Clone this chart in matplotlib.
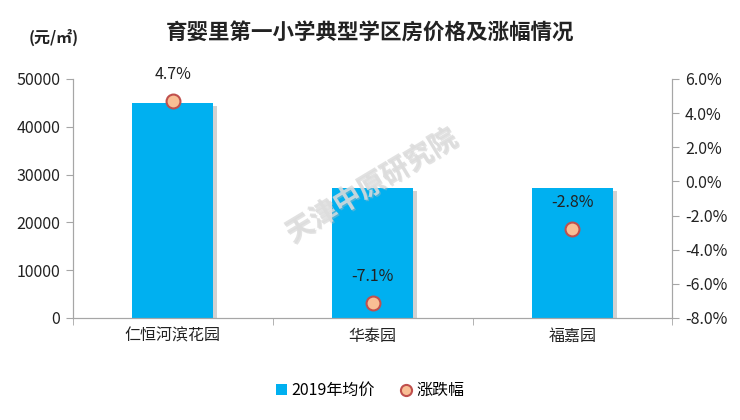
import matplotlib
matplotlib.use("Agg")
import matplotlib.pyplot as plt
import matplotlib.patheffects as pe
from matplotlib.ticker import FuncFormatter, FixedLocator
from matplotlib.lines import Line2D
from matplotlib.patches import Patch
import numpy as np

plt.rcParams["font.family"] = ["Noto Sans CJK SC", "DejaVu Sans"]

# ── data ──────────────────────────────────────────────────────────────────
communities = ["仁恒河滨花园", "华泰园", "福嘉园"]
avg_price_2019 = [45000, 27200, 27200]       # 元/㎡
change_pct = [4.7, -7.1, -2.8]               # %

BAR_COLOR = "#00B0F0"
AXIS_COLOR = "#A6A6A6"
TEXT_COLOR = "#222222"

fig = plt.figure(figsize=(7.4, 4.2), dpi=100)
ax = fig.add_axes([0.0986, 0.243, 0.810, 0.569])
ax2 = ax.twinx()

x = np.arange(len(communities))
ax.bar(x, avg_price_2019, width=0.405, color=BAR_COLOR, zorder=2,
       path_effects=[pe.SimplePatchShadow(offset=(3, -2), shadow_rgbFace="#999999", alpha=0.45),
                     pe.Normal()])

ax.set_xlim(-0.5, len(communities) - 0.5)
ax.set_ylim(0, 50000)
ax.set_yticks(np.arange(0, 50001, 10000))
ax.set_xticks(x)
ax.set_xticklabels(communities, fontsize=11.5, color=TEXT_COLOR)
ax.xaxis.set_minor_locator(FixedLocator(np.arange(-0.5, len(communities), 1.0)))
ax.tick_params(axis="x", which="major", length=0, pad=7)
ax.tick_params(axis="x", which="minor", length=5, color=AXIS_COLOR)
ax.tick_params(axis="y", length=5, color=AXIS_COLOR, labelsize=11.5, pad=4,
               labelcolor=TEXT_COLOR)

ax2.set_ylim(-8, 6)
ax2.set_yticks(np.arange(-8, 6.1, 2))
ax2.yaxis.set_major_formatter(FuncFormatter(lambda v, _: f"{v:.1f}%"))
ax2.tick_params(axis="y", length=5, color=AXIS_COLOR, labelsize=11.5, pad=4,
                labelcolor=TEXT_COLOR)

for a in (ax, ax2):
    a.spines["top"].set_visible(False)
    for s in ("left", "right", "bottom"):
        a.spines[s].set_color(AXIS_COLOR)

ax2.plot(x, change_pct, linestyle="none", marker="o", markersize=10,
         markerfacecolor="#F9BE94", markeredgecolor="#C0504D", markeredgewidth=1.5,
         zorder=5)
for xi, v in zip(x, change_pct):
    ax2.annotate(f"{v:.1f}%", (xi, v), xytext=(0, 13), textcoords="offset points",
                 ha="center", va="bottom", fontsize=11.5, color=TEXT_COLOR)

# watermark
fig.text(0.502, 0.557, "天津中原研究院", fontsize=20, color="#DCDCDC", alpha=0.85,
         rotation=31, ha="center", va="center", fontweight="bold", zorder=10,
         path_effects=[pe.withSimplePatchShadow(offset=(1, -1), shadow_rgbFace="#BBBBBB", alpha=0.4)])

fig.text(0.5, 0.92, "育婴里第一小学典型学区房价格及涨幅情况", ha="center", va="center",
         fontsize=15.5, fontweight="bold", color=TEXT_COLOR)
fig.text(0.073, 0.91, "(元/㎡)", ha="center", va="center", fontsize=11.5,
         fontweight="bold", color=TEXT_COLOR)

# legend
handles = [Patch(facecolor=BAR_COLOR, label="2019年均价"),
           Line2D([], [], linestyle="none", marker="o", markersize=8,
                  markerfacecolor="#F9BE94", markeredgecolor="#C0504D",
                  markeredgewidth=1.5, label="涨跌幅")]
fig.legend(handles=handles, loc="center", bbox_to_anchor=(0.5, 0.07), ncol=2,
           frameon=False, fontsize=11.5, handlelength=0.7, handleheight=0.7,
           handletextpad=0.3, columnspacing=1.6)

fig.savefig("out.png", dpi=100)
